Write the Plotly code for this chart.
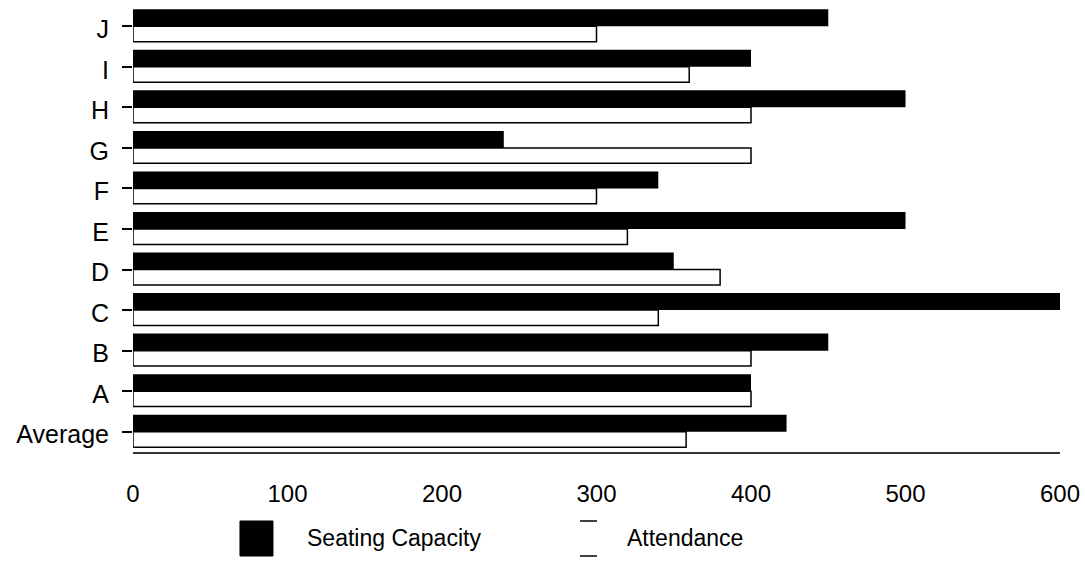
import plotly.graph_objects as go

# Venues listed bottom to top on the category axis
venues = ["Average", "A", "B", "C", "D", "E", "F", "G", "H", "I", "J"]
seating_capacity = [423, 400, 450, 600, 350, 500, 340, 240, 500, 400, 450]
attendance = [358, 400, 400, 340, 380, 320, 300, 400, 400, 360, 300]
x_ticks = [0, 100, 200, 300, 400, 500, 600]

FONT = "Liberation Sans, Arial, sans-serif"

fig = go.Figure()

# Attendance: open bars sitting just below each category line
fig.add_trace(go.Bar(
    y=venues, x=attendance, orientation="h", name="Attendance",
    width=0.38, offset=-0.38,
    marker=dict(color="white", line=dict(color="black", width=1.5)),
    showlegend=False,
))

# Seating capacity: solid bars just above each category line
fig.add_trace(go.Bar(
    y=venues, x=seating_capacity, orientation="h", name="Seating Capacity",
    width=0.42, offset=0.0,
    marker=dict(color="black", line=dict(color="black", width=0)),
    showlegend=False,
))

# Hand-built key below the axis
shapes = [
    dict(type="rect", xref="paper", yref="paper",
         x0=0.1154, x1=0.151, y0=-0.2332, y1=-0.1547,
         fillcolor="black", line=dict(color="black", width=1)),
    dict(type="line", xref="paper", yref="paper",
         x0=0.4822, x1=0.5005, y0=-0.1547, y1=-0.1547,
         line=dict(color="black", width=1.5)),
    dict(type="line", xref="paper", yref="paper",
         x0=0.4822, x1=0.5005, y0=-0.2332, y1=-0.2332,
         line=dict(color="black", width=1.5)),
]
annotations = [
    dict(text="Seating Capacity", xref="paper", yref="paper",
         x=0.1855, y=-0.1928, xanchor="left", yanchor="middle",
         showarrow=False, font=dict(family=FONT, size=23, color="black")),
    dict(text="Attendance", xref="paper", yref="paper",
         x=0.5307, y=-0.1928, xanchor="left", yanchor="middle",
         showarrow=False, font=dict(family=FONT, size=23, color="black")),
]

fig.update_layout(
    width=1085, height=580,
    margin=dict(l=133, r=25, t=6, b=128),
    barmode="overlay",
    plot_bgcolor="white", paper_bgcolor="white",
    font=dict(family=FONT, size=23, color="black"),
    shapes=shapes, annotations=annotations,
    showlegend=False,
)

fig.update_xaxes(
    range=[0, 600], tickvals=x_ticks, ticktext=[str(v) for v in x_ticks],
    showgrid=False, zeroline=False,
    showline=True, linecolor="#333333", linewidth=1.5,
    ticks="", ticklabelstandoff=19,
    tickfont=dict(family=FONT, size=24, color="black"),
)

fig.update_yaxes(
    categoryorder="array", categoryarray=venues,
    showgrid=False, zeroline=False, showline=False,
    ticks="outside", ticklen=10, tickwidth=1.5, tickcolor="black",
    ticklabelstandoff=8, ticklabelshift=3,
    tickfont=dict(family=FONT, size=25, color="black"),
)

fig.write_html("out.html")
